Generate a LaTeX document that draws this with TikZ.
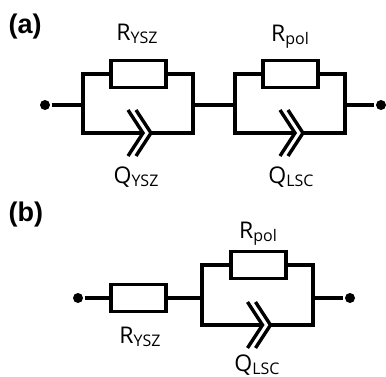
\documentclass[tikz,border=0pt]{standalone}
\usepackage{fontspec}
\setmainfont{Open Sans}
\newfontfamily\lblfont{Liberation Sans}
\newcommand\mysub[1]{\raisebox{-3pt}{\fontsize{16}{16}\selectfont #1}}
\begin{document}
\begin{tikzpicture}[x=1pt,y=-1pt, line width=3.4pt,
  res/.style={draw, rectangle, minimum width=55pt, minimum height=27pt, inner sep=0pt, fill=white},
  term/.style={circle, fill, inner sep=0pt, minimum size=10pt},
  lbl/.style={inner sep=0pt, anchor=base, font=\fontsize{23}{23}\selectfont},
  panel/.style={inner sep=0pt, anchor=north west, font=\lblfont\bfseries\fontsize{27}{27}\selectfont},
  cpe/.style={line cap=butt, line join=miter}]
\useasboundingbox (0,0) rectangle (386,377);

% ---------- panel (a) ----------
\node[panel] (pa) at (7,12) {(a)};
\node[term] (a0) at (45,105) {};
\node[term] (a9) at (381,105) {};
% RC1
\coordinate (a1tl) at (83,74);  \coordinate (a1bl) at (83,133);
\coordinate (a1tr) at (193,74); \coordinate (a1br) at (193,133);
\coordinate (a1ml) at (83,105); \coordinate (a1mr) at (193,105);
\node[res] (ra1) at (138.5,74) {};
\coordinate (qa1t) at (128,110); \coordinate (qa1p) at (143,133); \coordinate (qa1b) at (128,156);
\coordinate (qa2t) at (136,110); \coordinate (qa2p) at (151,133); \coordinate (qa2b) at (136,156);
\draw (a0) -- (a1ml);
\draw (ra1.west) -- (a1tl) -- (a1bl) -- (qa1p);
\draw (qa2p) -- (a1br) -- (a1tr) -- (ra1.east);
\draw[cpe] (qa1t) -- (qa1p) -- (qa1b);
\draw[cpe] (qa2t) -- (qa2p) -- (qa2b);
% RC2
\coordinate (a2tl) at (235,74);  \coordinate (a2bl) at (235,133);
\coordinate (a2tr) at (345,74); \coordinate (a2br) at (345,133);
\coordinate (a2ml) at (235,105); \coordinate (a2mr) at (345,105);
\node[res] (ra2) at (290.5,74) {};
\coordinate (qb1t) at (280,110); \coordinate (qb1p) at (295,133); \coordinate (qb1b) at (280,156);
\coordinate (qb2t) at (288,110); \coordinate (qb2p) at (303,133); \coordinate (qb2b) at (288,156);
\draw (a1mr) -- (a2ml);
\draw (ra2.west) -- (a2tl) -- (a2bl) -- (qb1p);
\draw (qb2p) -- (a2br) -- (a2tr) -- (ra2.east);
\draw[cpe] (qb1t) -- (qb1p) -- (qb1b);
\draw[cpe] (qb2t) -- (qb2p) -- (qb2b);
\draw (a2mr) -- (a9);
% labels
\node[lbl] (la1) at (137,41) {R\mysub{YSZ}};
\node[lbl] (la2) at (136,184) {Q\mysub{YSZ}};
\node[lbl] (la3) at (290,42) {R\mysub{pol}};
\node[lbl] (la4) at (291,184) {Q\mysub{LSC}};

% ---------- panel (b) ----------
\node[panel] (pb) at (7,200) {(b)};
\node[term] (b0) at (78,298) {};
\node[term] (b9) at (350,298) {};
\node[res] (rb1) at (138.5,298) {};
\coordinate (b1tl) at (202,265);  \coordinate (b1bl) at (202,325);
\coordinate (b1tr) at (313,265); \coordinate (b1br) at (313,325);
\coordinate (b1ml) at (202,298); \coordinate (b1mr) at (313,298);
\node[res] (rb2) at (258.5,265) {};
\coordinate (qc1t) at (247.5,302); \coordinate (qc1p) at (262.5,325); \coordinate (qc1b) at (247.5,348);
\coordinate (qc2t) at (255.5,302); \coordinate (qc2p) at (270.5,325); \coordinate (qc2b) at (255.5,348);
\draw (b0) -- (rb1.west);
\draw (rb1.east) -- (b1ml);
\draw (rb2.west) -- (b1tl) -- (b1bl) -- (qc1p);
\draw (qc2p) -- (b1br) -- (b1tr) -- (rb2.east);
\draw[cpe] (qc1t) -- (qc1p) -- (qc1b);
\draw[cpe] (qc2t) -- (qc2p) -- (qc2b);
\draw (b1mr) -- (b9);
\node[lbl] (lb1) at (258,239) {R\mysub{pol}};
\node[lbl] (lb2) at (140,343) {R\mysub{YSZ}};
\node[lbl] (lb3) at (257,371) {Q\mysub{LSC}};
\end{tikzpicture}
\end{document}
